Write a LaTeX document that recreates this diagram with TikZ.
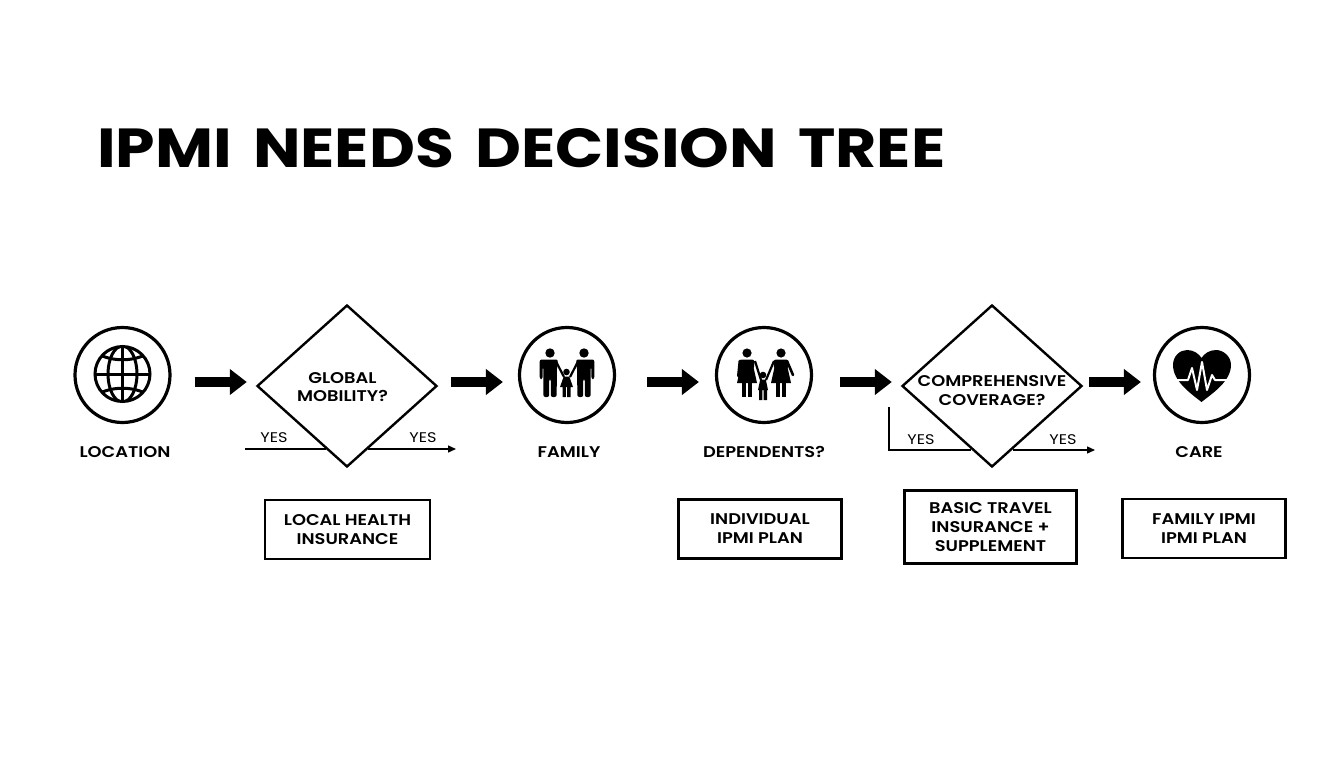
\documentclass[tikz,border=0pt]{standalone}
\usepackage{fontspec}
\setmainfont{Poppins}[FakeStretch=1.15,BoldFont={Poppins SemiBold}]
\newfontfamily\titlefont{Poppins Bold}[FakeStretch=1.15,WordSpace=1.58]
\usetikzlibrary{shapes.geometric,arrows.meta}
\tikzset{
  ring/.style={draw,circle,line width=3.2pt,minimum size=95pt,inner sep=0pt},
  decision/.style={draw,diamond,line width=2.4pt,minimum width=180pt,minimum height=162pt,inner sep=0pt},
  decisiontext/.style={align=center,inner sep=0pt,font=\fontsize{15.5}{18.5}\selectfont\bfseries},
  planbox/.style={draw,rectangle,line width=2.4pt,inner sep=0pt,align=center,font=\fontsize{15.5}{19}\selectfont\bfseries},
  caption/.style={font=\fontsize{15.5}{19}\selectfont\bfseries},
  yeslabel/.style={font=\fontsize{14}{16}\selectfont},
  bigarrow/.style={line width=10.5pt,-{Triangle[length=17pt,width=25pt]}},
  thinline/.style={line width=1.4pt},
  thinarrow/.style={line width=1.4pt,-{Triangle[length=8pt,width=7pt]}}
}
% little figures, (#1,#2) is the centre of the head, #3 is the side of the free arm
\newcommand{\manfig}[3]{
 \begin{scope}[shift={(#1,#2)},xscale=#3]
  \fill (0,0) circle (4.7);
  \fill[rounded corners=2] (-10.3,6.5)--(8,6.5)--(7,14)--(6.6,44)--(0.8,44)--(0.8,26)--(-0.8,26)--(-0.8,44)--(-6.6,44)--(-6.6,14)--(-7.4,14)--(-7.4,26)--(-10.3,26)--cycle;
  \draw[line width=2.2pt] (6,8.5) -- (14,24);
 \end{scope}}
\newcommand{\womanfig}[2]{
 \begin{scope}[shift={(#1,#2)}]
  \fill (0,0) circle (4.6);
  \fill[rounded corners=2.5] (-7.5,6.5)--(7.5,6.5)--(7,16)--(-7,16)--cycle;
  \fill (-6,12)--(6,12)--(10,30)--(-10,30)--cycle;
  \fill (-5.2,30) rectangle (-1,44);
  \fill (1,30) rectangle (5.2,44);
 \end{scope}}
\newcommand{\childfig}[3]{
 \begin{scope}[shift={(#1,#2)}]
  \fill (0,0) circle (3.3);
  \fill (-2.8,4.5)--(2.8,4.5)--(#3,15)--(4,15)--(4,25)--(0.6,25)--(0.6,15)--(-0.6,15)--(-0.6,25)--(-4,25)--(-4,15)--(-#3,15)--cycle;
 \end{scope}}
\begin{document}
\begin{tikzpicture}[x=1pt,y=-1pt]
 \useasboundingbox (0,0) rectangle (1344,768);
 \fill[white] (0,0) rectangle (1344,768);
 \node[anchor=west,inner sep=0pt,font=\fontsize{55}{60}\titlefont] (title) at (97,148) {IPMI NEEDS DECISION TREE};
 \coordinate (row) at (0,382);

 \node[ring] (location) at (122.5,375) {};
 \node[decision] (mobility) at (347,386) {};
 \node[decisiontext] (mobilitytext) at (342.5,387) {GLOBAL\\MOBILITY?};
 \node[ring] (family) at (567,375) {};
 \node[ring] (dependents) at (764,375) {};
 \node[decision] (coverage) at (992,386) {};
 \node[decisiontext] (coveragetext) at (992,390.5) {COMPREHENSIVE\\COVERAGE?};
 \node[ring] (care) at (1202,375) {};

 \node[caption] (locationtext) at (125,452) {LOCATION};
 \node[caption] (familytext) at (569,452) {FAMILY};
 \node[caption] (dependentstext) at (764,452) {DEPENDENTS?};
 \node[caption] (caretext) at (1199,452) {CARE};

 \node[planbox,minimum width=165pt,minimum height=59pt] (localplan) at (347.5,529.5) {LOCAL HEALTH\\INSURANCE};
 \node[planbox,minimum width=163pt,minimum height=59pt] (individualplan) at (760,529) {INDIVIDUAL\\IPMI PLAN};
 \node[planbox,minimum width=172pt,minimum height=73pt] (travelplan) at (990.5,527) {BASIC TRAVEL\\INSURANCE +\\SUPPLEMENT};
 \node[planbox,minimum width=163pt,minimum height=59pt] (familyplan) at (1204,528.5) {FAMILY IPMI\\IPMI PLAN};

 \draw[bigarrow,shorten <=23pt,shorten >=9pt] (location.east |- row) -- (mobility.west |- row);
 \draw[bigarrow,shorten <=13pt,shorten >=15pt] (mobility.east |- row) -- (family.west |- row);
 \draw[bigarrow,shorten <=31pt,shorten >=16pt] (family.east |- row) -- (dependents.west |- row);
 \draw[bigarrow,shorten <=27pt,shorten >=9pt] (dependents.east |- row) -- (coverage.west |- row);
 \draw[bigarrow,shorten <=6pt,shorten >=12pt] (coverage.east |- row) -- (care.west |- row);

 \coordinate (yesa) at (245,449);
 \coordinate (yesb) at (456,449);
 \coordinate (yesc) at (889,407);
 \coordinate (yesd) at (1095,450);
 \draw[thinline] (yesa) -- (yesa -| mobility.252);
 \draw[thinarrow] (yesb -| mobility.288) -- (yesb);
 \draw[thinline] (yesc) |- (yesd -| coverage.252);
 \draw[thinarrow] (yesd -| coverage.288) -- (yesd);
 \node[yeslabel] (yes1) at (274,438) {YES};
 \node[yeslabel] (yes2) at (423,438) {YES};
 \node[yeslabel] (yes3) at (921,440) {YES};
 \node[yeslabel] (yes4) at (1063,440) {YES};

 % globe
 \begin{scope}[line width=3pt]
  \draw (122.5,374) circle (27.5);
  \clip (122.5,374) circle (27.5);
  \draw (122.5,346)--(122.5,402);
  \draw (94,374)--(151,374);
  \draw (122.5,374) ellipse (14.5 and 28);
  \draw (97,353) .. controls (110,362) and (135,362) .. (148,353);
  \draw (97,395) .. controls (110,386) and (135,386) .. (148,395);
 \end{scope}

 % family
 \manfig{550}{353}{1}
 \manfig{584}{353}{-1}
 \childfig{566.5}{372}{6.5}

 % dependents
 \womanfig{747}{353}
 \womanfig{781}{353}
 \childfig{763}{375}{5}
 \draw[line width=3pt,line cap=round] (740,361) -- (738.5,376);
 \draw[line width=2.6pt,line cap=round] (787,361) -- (793,375);
 \draw[line width=2.2pt] (755,361) -- (761,380);
 \draw[line width=2.2pt] (774,361) -- (766,380);

 % heart
 \fill (1201.5,402) .. controls (1190,393) and (1173,381) .. (1173,365)
   .. controls (1173,356) and (1180,350) .. (1187,350)
   .. controls (1194,350) and (1199,354) .. (1201.5,358)
   .. controls (1204,354) and (1209,350) .. (1216,350)
   .. controls (1223,350) and (1231,356) .. (1231,365)
   .. controls (1231,381) and (1213,393) .. (1201.5,402) -- cycle;
 \draw[white,line width=2pt,line join=round] (1172,380)--(1188,380)--(1192,368)--(1197,390)--(1202,362)--(1207,390)--(1212,375)--(1215,380)--(1232,380);
\end{tikzpicture}
\end{document}
